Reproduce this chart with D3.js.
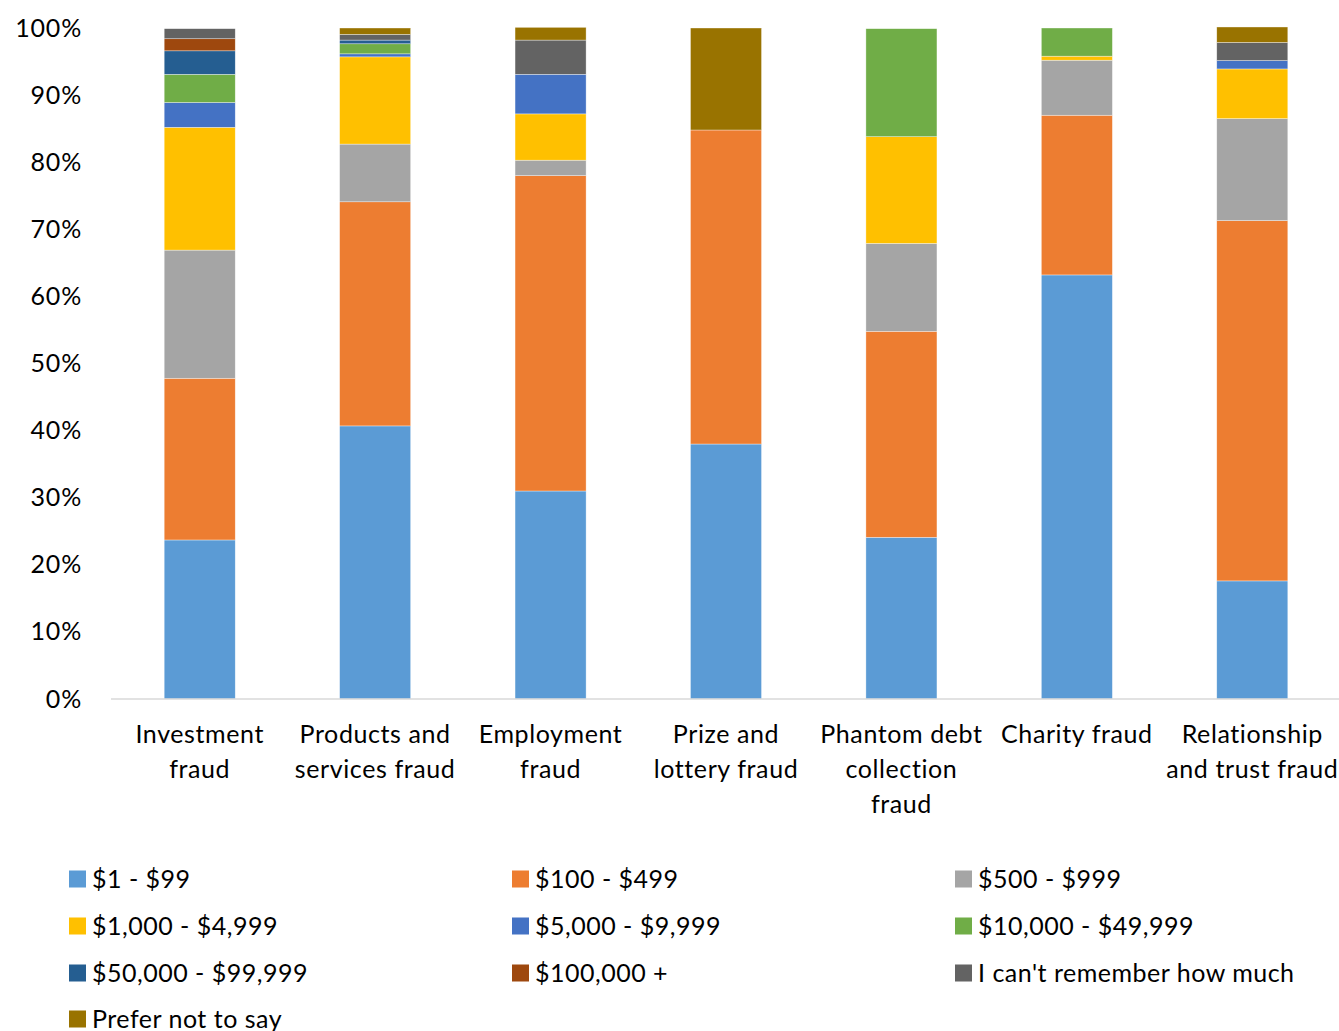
<!DOCTYPE html>
<html><head><meta charset="utf-8">
<script src="https://cdn.jsdelivr.net/npm/d3@7"></script>
<style>
html,body{margin:0;padding:0;background:#fff;}
svg text{font-family:Lato,"Open Sans",sans-serif;fill:#000;}
</style></head>
<body><svg id="chart" width="1339" height="1031"></svg>
<script>
const categories = [
  ["Investment","fraud"],
  ["Products and","services fraud"],
  ["Employment","fraud"],
  ["Prize and","lottery fraud"],
  ["Phantom debt","collection","fraud"],
  ["Charity fraud"],
  ["Relationship","and trust fraud"]
];
const seriesNames = ["$1 - $99","$100 - $499","$500 - $999","$1,000 - $4,999","$5,000 - $9,999","$10,000 - $49,999","$50,000 - $99,999","$100,000 +","I can't remember how much","Prefer not to say"];
const seriesColors = ["#5B9BD5","#ED7D31","#A5A5A5","#FFC000","#4472C4","#70AD47","#255E91","#9E480E","#636363","#997300"];
// values per series, in category order (percent)
const s1_99        = [23.7, 40.7, 31.0, 38.0, 24.1, 63.2, 17.6];
const s100_499     = [24.1, 33.4, 47.0, 46.8, 30.7, 23.8, 53.7];
const s500_999     = [19.1,  8.6,  2.3,  0.0, 13.1,  8.2, 15.2];
const s1000_4999   = [18.3, 13.0,  6.9,  0.0, 15.9,  0.6,  7.4];
const s5000_9999   = [ 3.7,  0.45, 5.9,  0.0,  0.0,  0.0,  1.25];
const s10000_49999 = [ 4.2,  1.5,  0.0,  0.0, 16.1,  4.2,  0.0];
const s50000_99999 = [ 3.5,  0.55, 0.0,  0.0,  0.0,  0.0,  0.0];
const s100000plus  = [ 1.8,  0.0,  0.0,  0.0,  0.0,  0.0,  0.0];
const sCantRemember= [ 1.5,  0.85, 5.1,  0.0,  0.0,  0.0,  2.7];
const sPreferNot   = [ 0.0,  0.95, 1.9, 15.2,  0.0,  0.0,  2.3];
const yTicks = [0,10,20,30,40,50,60,70,80,90,100];

const seriesValues = [s1_99,s100_499,s500_999,s1000_4999,s5000_9999,s10000_49999,s50000_99999,s100000plus,sCantRemember,sPreferNot];
const rows = categories.map((c,i)=>{
  const r={idx:i};
  seriesNames.forEach((n,k)=>r[n]=seriesValues[k][i]);
  return r;
});
const stack = d3.stack().keys(seriesNames)(rows);

const svg = d3.select("#chart");
const m = {left:111, right:1339, top:28, bottom:699};
const x = d3.scaleBand().domain(d3.range(categories.length)).range([m.left+1,m.right+1]).paddingInner(0.595).paddingOuter(0.2975);
const y = d3.scaleLinear().domain([0,100]).range([m.bottom,m.top]);

// y-axis labels
const yAxis = d3.axisLeft(y).tickValues(yTicks).tickFormat(d=>d+"%").tickSize(0).tickPadding(29);
const ga = svg.append("g").attr("transform",`translate(${m.left},0)`).call(yAxis);
ga.select(".domain").remove();
ga.selectAll("text").attr("font-size",25).attr("font-family","Lato").attr("fill","#000").attr("letter-spacing","0.8");

// bars
svg.append("g").selectAll("g").data(stack).join("g")
  .attr("fill",(d,i)=>seriesColors[i])
  .selectAll("rect").data(d=>d).join("rect")
  .attr("x",(d,i)=>x(i))
  .attr("width",x.bandwidth())
  .attr("y",d=>y(d[1]))
  .attr("height",d=>Math.max(0,y(d[0])-y(d[1])))
  .attr("stroke","#fff").attr("stroke-width",0.6).attr("stroke-opacity",0.6);

// x axis
const xAxis = d3.axisBottom(x).tickSize(0).tickFormat("");
const gx = svg.append("g").attr("transform",`translate(0,${m.bottom})`).call(xAxis);
gx.select(".domain").remove();
svg.append("line").attr("x1",m.left).attr("x2",m.right).attr("y1",m.bottom).attr("y2",m.bottom)
  .attr("stroke","#D9D9D9").attr("stroke-width",1.5);
gx.selectAll(".tick").each(function(d){
  const t = d3.select(this).append("text").attr("text-anchor","middle").attr("font-size",25).attr("letter-spacing","0.6").attr("fill","#000");
  categories[d].forEach((line,j)=>{
    t.append("tspan").attr("x",0).attr("y",44+j*35).text(line);
  });
});

// legend
const legCols=[69,512,955], legRows=[879,926,973,1019];
const lg = svg.append("g");
seriesNames.forEach((n,k)=>{
  const cx = legCols[k%3], cy = legRows[Math.floor(k/3)];
  lg.append("rect").attr("x",cx).attr("y",cy-8.5).attr("width",17).attr("height",17).attr("fill",seriesColors[k]);
  lg.append("text").attr("x",cx+23).attr("y",cy+9).attr("font-size",25).attr("letter-spacing","0.5").text(n);
});
</script></body></html>
